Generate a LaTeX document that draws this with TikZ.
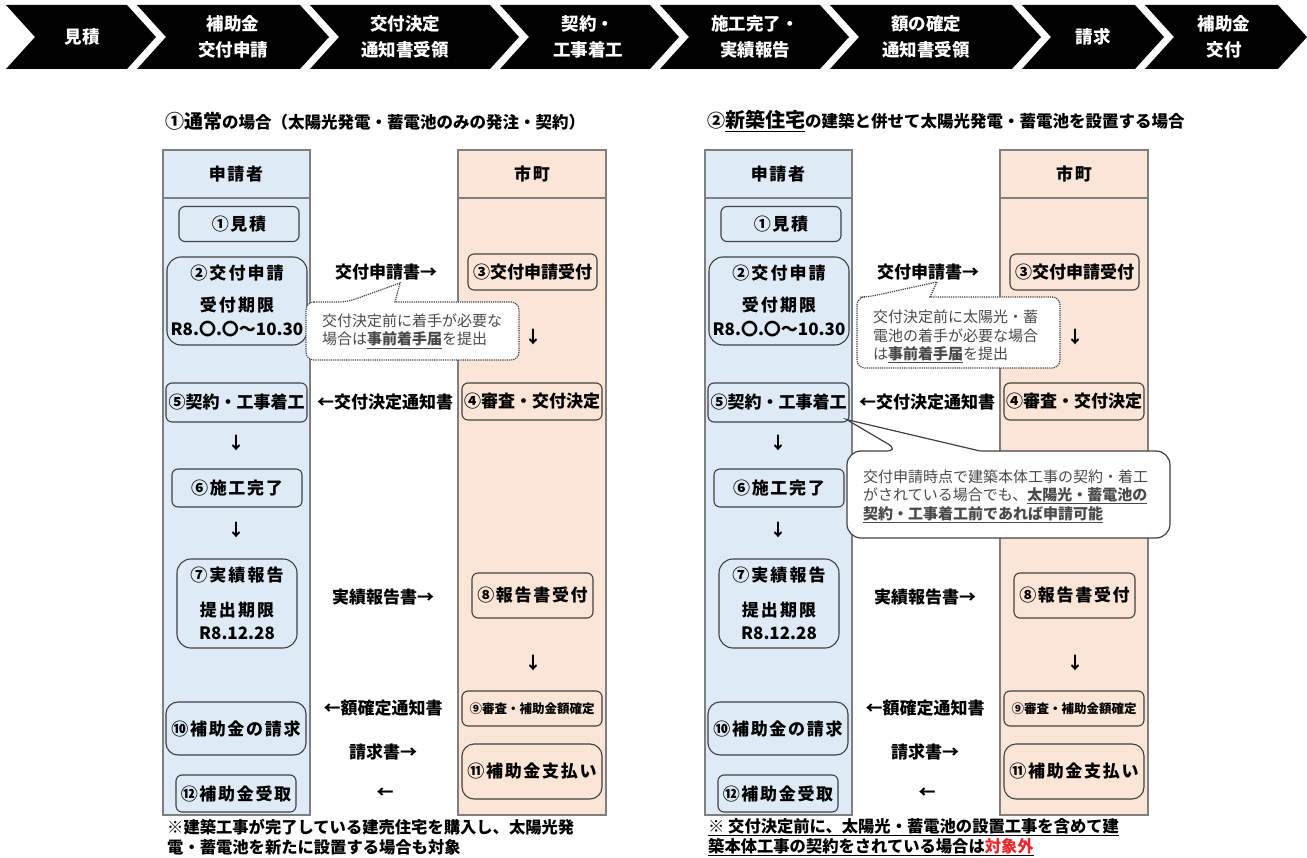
\documentclass[tikz,border=0pt]{standalone}
\usepackage{fontspec}
\setmainfont{Noto Sans CJK JP}
\usetikzlibrary{calc}
\definecolor{laneblue}{HTML}{DEEBF7}
\definecolor{lanepeach}{HTML}{FBE5D6}
\definecolor{edgegray}{HTML}{7F7F7F}
\definecolor{boxgray}{HTML}{404040}
\definecolor{notegray}{HTML}{4A4A4A}
\definecolor{notered}{HTML}{E8262B}
\newcommand{\spaced}[1]{{\addfontfeature{LetterSpace=12}#1}}
\begin{document}
\begin{tikzpicture}[x=1pt,y=-1pt,
  bantext/.style={text=white, font=\fontsize{17.5}{26}\selectfont\bfseries, align=center, inner sep=0pt},
  lane/.style={draw=edgegray, line width=1.5pt},
  lbl/.style={inner sep=0pt, font=\fontsize{17}{20}\selectfont\bfseries},
  nbox/.style={draw=boxgray, line width=1.1pt, rounded corners=6pt, inner sep=0pt, align=center, font=\fontsize{17}{20}\selectfont\bfseries},
  wide/.style={font=\fontsize{17}{20}\selectfont\bfseries\addfontfeature{LetterSpace=10}},
  rbox/.style={nbox, rounded corners=14pt},
  note/.style={inner sep=0pt, align=left, text=notegray, font=\fontsize{15}{18.5}\selectfont},
  foot/.style={inner sep=0pt, anchor=west, font=\fontsize{16.3}{20}\selectfont\bfseries},
  callout/.style={draw=boxgray, line width=1.2pt, fill=white},
]
\useasboundingbox (0,0) rectangle (1307,858);

% ---------- top banner ----------
\foreach \L/\R in {6/127,137/300,310/490,500/650,660/820,830/1012,1022/1135,1145/1278}{
  \fill[black] (\L,5) -- (\R,5) -- (\R+29,37) -- (\R,69) -- (\L,69) -- (\L+29,37) -- cycle;
}
\node[bantext] (b1) at (82,37) {見積};
\node[bantext] (b2) at (233,37) {補助金\\交付申請};
\node[bantext] (b3) at (405,37) {交付決定\\通知書受領};
\node[bantext] (b4) at (588,37) {契約・\\工事着工};
\node[bantext] (b5) at (755,37) {施工完了・\\実績報告};
\node[bantext] (b6) at (926,37) {額の確定\\通知書受領};
\node[bantext] (b7) at (1093,37) {請求};
\node[bantext] (b8) at (1224,37) {補助金\\交付};

% ---------- titles ----------
\node[inner sep=0pt, anchor=west, font=\fontsize{16.5}{20}\selectfont\bfseries] (t1) at (165,121)
  {{\fontsize{19}{20}\selectfont ①通常}の場合（太陽光発電・蓄電池のみの発注・契約）};
\node[inner sep=0pt, anchor=west, font=\fontsize{16.5}{20}\selectfont\bfseries] (t2) at (707,121)
  {{\fontsize{18}{20}\selectfont ②}{\fontsize{20}{20}\selectfont\underline{新築住宅}}の建築と併せて太陽光発電・蓄電池を設置する場合};

% ---------- both flows ----------
\foreach \p/\dx in {L/0,R/542}{
\begin{scope}[xshift=\dx]
  \draw[lane, fill=laneblue] (163,150) rectangle (310,815);
  \draw[lane] (163,198) -- (310,198);
  \draw[lane, fill=lanepeach] (458,150) rectangle (606,815);
  \draw[lane] (458,198) -- (606,198);
  \node[lbl, wide] (\p hA) at (236,174) {申請者};
  \node[lbl, wide] (\p hB) at (532,174) {市町};
  \node[nbox, wide, fill=laneblue, minimum width=120, minimum height=35] (\p1) at (239,224) {①見積};
  \node[rbox, fill=laneblue, minimum width=140, minimum height=88, font=\fontsize{17}{24}\selectfont\bfseries] (\p2) at (237,301) {\spaced{②交付申請}\\[8pt]\spaced{受付期限}\\R8.〇.〇～10.30};
  \node[nbox, fill=lanepeach, minimum width=129, minimum height=36] (\p3) at (532.5,272) {③交付申請受付};
  \node[lbl] (\p m1) at (386,272) {交付申請書→};
  \node[lbl] (\p d1) at (533,337) {↓};
  \node[nbox, fill=laneblue, minimum width=141, minimum height=39] (\p5) at (236.5,402.5) {⑤契約・工事着工};
  \node[lbl] (\p m2) at (385,402) {←交付決定通知書};
  \node[nbox, fill=lanepeach, minimum width=140, minimum height=37] (\p4) at (532,401.5) {④審査・交付決定};
  \node[lbl] (\p d2) at (236,443) {↓};
  \node[nbox, wide, fill=laneblue, minimum width=130, minimum height=38] (\p6) at (237,488) {⑥施工完了};
  \node[lbl] (\p d3) at (236,530) {↓};
  \node[rbox, fill=laneblue, minimum width=120, minimum height=89, font=\fontsize{17}{23}\selectfont\bfseries] (\p7) at (237,603.5) {\spaced{⑦実績報告}\\[12pt]\spaced{提出期限}\\R8.12.28};
  \node[lbl] (\p m3) at (383,597) {実績報告書→};
  \node[nbox, wide, fill=lanepeach, minimum width=121, minimum height=45] (\p8) at (532.5,595.5) {⑧報告書受付};
  \node[lbl] (\p d4) at (533,663) {↓};
  \node[nbox, fill=lanepeach, minimum width=140, minimum height=35, font=\fontsize{12.5}{15}\selectfont\bfseries] (\p9) at (532,708.5) {⑨審査・補助金額確定};
  \node[lbl] (\p m4) at (383,708) {←額確定通知書};
  \node[rbox, wide, rounded corners=12pt, fill=laneblue, minimum width=140, minimum height=53] (\p10) at (236,728.5) {⑩補助金の請求};
  \node[lbl] (\p m5) at (383,752) {請求書→};
  \node[rbox, wide, rounded corners=12pt, fill=lanepeach, minimum width=140, minimum height=55] (\p11) at (532,771.5) {⑪補助金支払い};
  \node[nbox, wide, fill=laneblue, minimum width=120, minimum height=37] (\p12) at (236,793.5) {⑫補助金受取};
  \node[lbl] (\p m6) at (385,793) {←};
\end{scope}
}

% ---------- left dotted callout ----------
\draw[callout, densely dotted, rounded corners=8pt] (306,302) -- (347,302) [sharp corners] -- (400,283) -- (395,302) [rounded corners=8pt] -- (519,302) -- (519,360) -- (306,360) -- cycle;
\node[note, anchor=west] (c1) at (322,331) {交付決定前に着手が必要な\\場合は\underline{\textbf{事前着手届}}を提出};

% ---------- right dotted callout ----------
\draw[callout, densely dotted, rounded corners=8pt] (857,297) -- (868,297) [sharp corners] -- (937,282) -- (930,297) [rounded corners=8pt] -- (1060,297) -- (1060,368) -- (857,368) -- cycle;
\node[note, anchor=west] (c2) at (873,336.5) {交付決定前に太陽光・蓄\\電池の着手が必要な場合\\は\underline{\textbf{事前着手届}}を提出};

% ---------- right big callout ----------
\coordinate (tip) at ($(R5.south east)+(-3,-3)$);
\draw[callout, rounded corners=14pt] (847,451) -- (900,451) [sharp corners] -- (tip) -- (980,451) [rounded corners=14pt] -- (1170,451) -- (1170,538) -- (847,538) -- cycle;
\node[note, anchor=west] (c3) at (863,496) {交付申請時点で建築本体工事の契約・着工\\がされている場合でも、\underline{\textbf{太陽光・蓄電池の}}\\\underline{\textbf{契約・工事着工前であれば申請可能}}};

% ---------- footnotes ----------
\node[foot] (f1) at (167,827) {※建築工事が完了している建売住宅を購入し、太陽光発};
\node[foot] (f2) at (167,847) {電・蓄電池を新たに設置する場合も対象};
\node[foot] (f3) at (708,827) {\underline{※\ 交付決定前に、太陽光・蓄電池の設置工事を含めて建}};
\node[foot] (f4) at (708,847) {\underline{築本体工事の契約をされている場合は\textcolor{notered}{対象外}}};
\end{tikzpicture}
\end{document}
